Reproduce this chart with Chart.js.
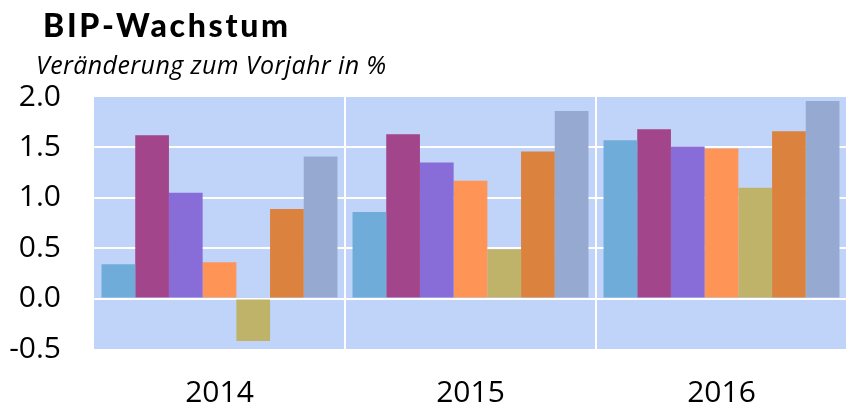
<!DOCTYPE html>
<html>
<head>
<meta charset="utf-8">
<script src="https://cdn.jsdelivr.net/npm/chart.js@4.4.1/dist/chart.umd.min.js"></script>
<style>
  html, body { margin: 0; padding: 0; background: #fff; }
  #wrap { position: relative; width: 847px; height: 408px; overflow: hidden; }
  #titel { position: absolute; left: 43px; top: 9px; margin: 0; font: 900 32px/1 Lato, sans-serif; letter-spacing: 2.7px; color: #000; white-space: nowrap; }
  #untertitel { position: absolute; left: 36px; top: 52px; margin: 0; font: italic 400 25px/1 'Open Sans', sans-serif; letter-spacing: 0.4px; color: #000; white-space: nowrap; }
</style>
</head>
<body>
<div id="wrap">
  <canvas id="bipChart" width="847" height="408"></canvas>
  <h1 id="titel">BIP-Wachstum</h1>
  <p id="untertitel">Veränderung zum Vorjahr in %</p>
</div>
<script>
// Jahre (Kategorien)
const jahre = ['2014', '2015', '2016'];

// Werte je Reihe
const reihe1 = [0.34, 0.86, 1.57];
const reihe2 = [1.62, 1.63, 1.68];
const reihe3 = [1.05, 1.35, 1.51];
const reihe4 = [0.36, 1.17, 1.49];
const reihe5 = [-0.42, 0.49, 1.10];
const reihe6 = [0.89, 1.46, 1.66];
const reihe7 = [1.41, 1.86, 1.96];

// Skala der y-Achse
const yMin = -0.5;
const yMax = 2.0;
const yStep = 0.5;

// Farben der Reihen
const farben = ['#70acda', '#a2458a', '#886cd8', '#ff9457', '#bfb36a', '#db823e', '#95a9d1'];

const alleReihen = [reihe1, reihe2, reihe3, reihe4, reihe5, reihe6, reihe7];

// Hintergrund der Zeichenfläche
const plotHintergrund = {
    id: 'plotHintergrund',
    beforeDraw(chart) {
        const { ctx, chartArea } = chart;
        ctx.save();
        ctx.fillStyle = '#c0d3f8';
        ctx.fillRect(chartArea.left, chartArea.top, chartArea.right - chartArea.left, chartArea.bottom - chartArea.top);
        ctx.restore();
    }
};

const ctx = document.getElementById('bipChart').getContext('2d');

new Chart(ctx, {
    type: 'bar',
    data: {
        labels: jahre,
        datasets: alleReihen.map((werte, i) => ({
            label: 'Reihe ' + (i + 1),
            data: werte,
            backgroundColor: farben[i],
            borderWidth: 0,
            categoryPercentage: 0.94,
            barPercentage: 1.0
        }))
    },
    options: {
        responsive: false,
        animation: false,
        layout: {
            // rechts etwas über den Rand hinaus, wie im Original
            padding: { top: 97, left: 7, right: -4, bottom: 0 }
        },
        plugins: {
            legend: { display: false },
            tooltip: { enabled: false }
        },
        scales: {
            x: {
                offset: true,
                afterFit: (scale) => { scale.height = 59; },
                grid: {
                    offset: true,
                    drawTicks: false,
                    lineWidth: 2,
                    color: (c) => (c.index === 0 || c.index === jahre.length) ? 'rgba(0,0,0,0)' : '#ffffff'
                },
                border: { display: false },
                ticks: {
                    padding: 29,
                    color: '#000',
                    font: { family: "'Open Sans', sans-serif", size: 30, lineHeight: 1 }
                }
            },
            y: {
                min: yMin,
                max: yMax,
                afterFit: (scale) => { scale.width = 87; },
                grid: {
                    drawTicks: false,
                    lineWidth: 2,
                    color: (c) => (c.index === 0 || c.tick.value === yMax) ? 'rgba(0,0,0,0)' : '#ffffff'
                },
                border: { display: false },
                ticks: {
                    stepSize: yStep,
                    padding: 33,
                    color: '#000',
                    font: { family: "'Open Sans', sans-serif", size: 30, lineHeight: 1 },
                    callback: (v) => v.toFixed(1)
                }
            }
        }
    },
    plugins: [plotHintergrund]
});
</script>
</body>
</html>
